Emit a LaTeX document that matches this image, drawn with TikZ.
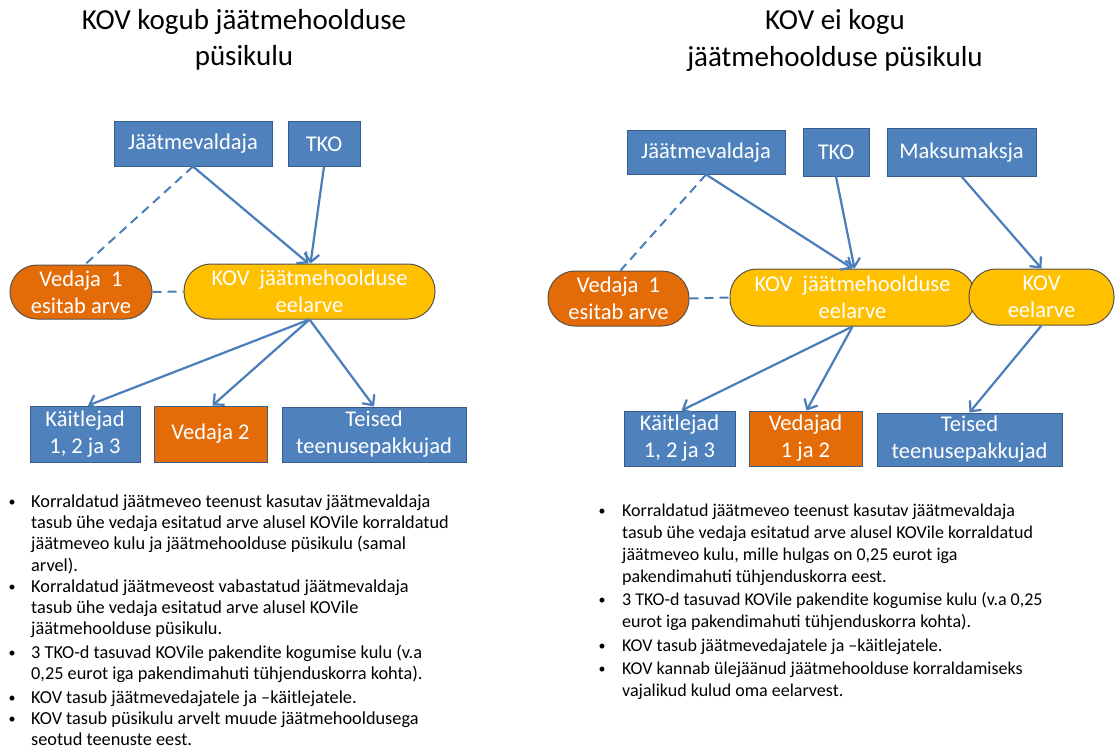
\documentclass[tikz,border=0pt]{standalone}
\usepackage{fontspec}
\setmainfont{Carlito}
\usetikzlibrary{arrows.meta}
\definecolor{bfill}{HTML}{4F81BD}
\definecolor{bdraw}{HTML}{385D8A}
\definecolor{ofill}{HTML}{E36C09}
\definecolor{yfill}{HTML}{FFC000}
\definecolor{rdraw}{HTML}{5A5148}
\definecolor{lcol}{HTML}{4A7EBB}
\tikzset{
  bluebox/.style={rectangle,fill=bfill,draw=bdraw,line width=1pt,inner sep=0pt,text=white,align=center,font=\fontsize{22.5}{27}\selectfont},
  orangebox/.style={bluebox,fill=ofill},
  pill/.style={rectangle,rounded corners=27pt,draw=rdraw,line width=1pt,inner sep=0pt,text=white,align=center,font=\fontsize{22.5}{27}\selectfont},
  opill/.style={pill,fill=ofill},
  ypill/.style={pill,fill=yfill},
  arr/.style={draw=lcol,line width=2.2pt,-{Straight Barb[length=8pt,width=15pt,line width=2.2pt]}},
  dsh/.style={draw=lcol,line width=2pt,dash pattern=on 9pt off 6pt},
  ttl/.style={align=center,font=\fontsize{29}{36.5}\selectfont},
  itm/.style={anchor=north west,align=left,inner sep=0pt,font=\fontsize{18.3}{21.4}\selectfont},
  rtm/.style={anchor=north west,align=left,inner sep=0pt,font=\fontsize{18}{22}\selectfont},
  bul/.style={anchor=base,inner sep=0pt,font=\fontsize{14}{18}\selectfont}
}
\begin{document}
\begin{tikzpicture}[x=1pt,y=-1pt]
\useasboundingbox[fill=white] (0,0) rectangle (1116,749);
% titles
\node[ttl] (t1) at (244,40) {KOV kogub jäätmehoolduse\\püsikulu};
\node[ttl] (t2) at (835,40.5) {KOV ei kogu\\jäätmehoolduse püsikulu};
% left diagram
\node[bluebox,minimum width=158pt,minimum height=44pt] (jv) at (193,144) {Jäätmevaldaja};
\node[bluebox,minimum width=72pt,minimum height=44pt] (tko) at (324,144) {TKO};
\node[opill,minimum width=142pt,minimum height=54pt] (ved1) at (81,292) {Vedaja~~1\\esitab arve};
\node[ypill,minimum width=251pt,minimum height=55pt] (kov) at (309.5,291.5) {KOV~~jäätmehoolduse\\eelarve};
\node[bluebox,minimum width=110pt,minimum height=56pt] (kait) at (85,434) {Käitlejad\\1, 2 ja 3};
\node[orangebox,minimum width=113pt,minimum height=56pt] (ved2) at (210.5,434) {Vedaja 2};
\node[bluebox,minimum width=184pt,minimum height=55pt] (teised) at (374,434.5) {Teised\\teenusepakkujad};
\draw[arr] (jv.south) -- ([xshift=-1pt]kov.north);
\draw[arr] (tko.south) -- ([xshift=1pt]kov.north);
\draw[dsh] (jv.south) -- ([xshift=4pt]ved1.north);
\draw[dsh] (ved1.east) -- (kov.west);
\draw[arr] (kov.south) -- ([xshift=3pt]kait.north);
\draw[arr] (kov.south) -- ([xshift=2pt]ved2.north);
\draw[arr] (kov.south) -- (teised.north);
% right diagram
\node[bluebox,minimum width=158pt,minimum height=43pt] (jv2) at (706,152.5) {Jäätmevaldaja};
\node[bluebox,minimum width=66pt,minimum height=47pt] (tko2) at (836,152.5) {TKO};
\node[bluebox,minimum width=149pt,minimum height=47pt] (mm) at (961.5,152.5) {Maksumaksja};
\node[opill,minimum width=141pt,minimum height=55pt] (ved1b) at (618.5,298.5) {Vedaja~~1\\esitab arve};
\node[ypill,minimum width=245pt,minimum height=57pt] (kov2) at (852.5,297.5) {KOV~~jäätmehoolduse\\eelarve};
\node[ypill,minimum width=145pt,minimum height=56pt] (kove) at (1041.5,297) {KOV\\eelarve};
\node[bluebox,minimum width=111pt,minimum height=55pt] (kait2) at (679.5,438.5) {Käitlejad\\1, 2 ja 3};
\node[orangebox,minimum width=113pt,minimum height=55pt] (veds) at (805.5,438.5) {Vedajad\\1 ja 2};
\node[bluebox,minimum width=185pt,minimum height=53pt] (teised2) at (969.5,439.5) {Teised\\teenusepakkujad};
\draw[arr] (jv2.south) -- (kov2.north);
\draw[arr] (tko2.south) -- ([xshift=2pt]kov2.north);
\draw[arr] (mm.south) -- (kove.north);
\draw[dsh] (jv2.south) -- ([xshift=2pt]ved1b.north);
\draw[dsh] (ved1b.east) -- (kov2.west);
\draw[arr] (kov2.south) -- ([xshift=2pt]kait2.north);
\draw[arr] (kov2.south) -- ([xshift=1pt]veds.north);
\draw[arr] (kove.south) -- (teised2.north);
% left bullets (first baselines 507, 592, 658, 703, 724)
\node[bul] (lb1) at (12,506) {•};
\node[itm] (li1) at (31,492) {\strut Korraldatud jäätmeveo teenust kasutav jäätmevaldaja\\tasub ühe vedaja esitatud arve alusel KOVile korraldatud\\jäätmeveo kulu ja jäätmehoolduse püsikulu (samal\\arvel).};
\node[bul] (lb2) at (12,591) {•};
\node[itm] (li2) at (31,577) {\strut Korraldatud jäätmeveost vabastatud jäätmevaldaja\\tasub ühe vedaja esitatud arve alusel KOVile\\jäätmehoolduse püsikulu.};
\node[bul] (lb3) at (12,657) {•};
\node[itm] (li3) at (31,643) {\strut 3 TKO-d tasuvad KOVile pakendite kogumise kulu (v.a\\0,25 eurot iga pakendimahuti tühjenduskorra kohta).};
\node[bul] (lb4) at (12,702) {•};
\node[itm] (li4) at (31,688) {\strut KOV tasub jäätmevedajatele ja –käitlejatele.};
\node[bul] (lb5) at (12,723) {•};
\node[itm] (li5) at (31,709) {\strut KOV tasub püsikulu arvelt muude jäätmehooldusega\\seotud teenuste eest.};
% right bullets (first baselines 516, 605, 651, 674)
\node[bul] (rb1) at (602,515) {•};
\node[rtm] (ri1) at (622,500.6) {\strut Korraldatud jäätmeveo teenust kasutav jäätmevaldaja\\tasub ühe vedaja esitatud arve alusel KOVile korraldatud\\jäätmeveo kulu, mille hulgas on 0,25 eurot iga\\pakendimahuti tühjenduskorra eest.};
\node[bul] (rb2) at (602,604) {•};
\node[rtm] (ri2) at (622,589.6) {\strut 3 TKO-d tasuvad KOVile pakendite kogumise kulu (v.a 0,25\\eurot iga pakendimahuti tühjenduskorra kohta).};
\node[bul] (rb3) at (602,650) {•};
\node[rtm] (ri3) at (622,635.6) {\strut KOV tasub jäätmevedajatele ja –käitlejatele.};
\node[bul] (rb4) at (602,673) {•};
\node[rtm] (ri4) at (622,658.6) {\strut KOV kannab ülejäänud jäätmehoolduse korraldamiseks\\vajalikud kulud oma eelarvest.};
\end{tikzpicture}
\end{document}
